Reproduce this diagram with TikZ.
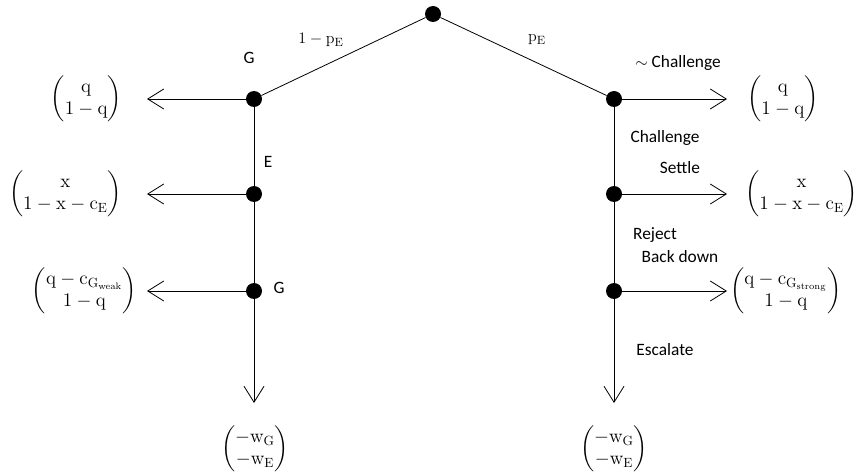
\documentclass[tikz,border=0pt]{standalone}
\usepackage{amsmath}
\usepackage[no-math]{fontspec}
\setmainfont{Carlito}
\usetikzlibrary{arrows.meta}
\tikzstyle{decision}=[circle,fill=black,minimum size=12pt,inner sep=0pt]
\tikzstyle{branch} = [draw, line width=0.6pt, -]
\tikzstyle{move} = [draw, line width=0.6pt, -{Straight Barb[length=12pt,width=15pt,line width=0.6pt]}]
\tikzstyle{talk} = [dashed, dash pattern=on 7pt off 5pt, line width=0.6pt]
\tikzstyle{payoff} = [inner sep=0pt, font=\fontsize{14}{17}\selectfont]
\tikzstyle{act} = [inner sep=0pt, font=\fontsize{13}{15}\selectfont]
\newcommand{\payvec}[2]{$\begin{pmatrix}#1\\#2\end{pmatrix}$}
\def\decisions{{(433,14)/root}, {(254,99)/gl}, {(614,99)/gr}, {(254,194)/el}, {(614,194)/er}, {(254,291)/wl}, {(614,291)/sr}}
\def\tips{{(147,99)/tl1}, {(147,194)/tl2}, {(147,291)/tl3}, {(727,99)/tr1}, {(727,194)/tr2}, {(727,291)/tr3}, {(254,403)/dl}, {(614,403)/dr}}

\begin{document}
\begin{tikzpicture}[x=0.75pt, y=-0.75pt]

    % Keep the page as large as the picture
    \useasboundingbox (0,0) rectangle (860,474);

    % The decision nodes
    \foreach \pos/\name in \decisions
      \node[decision] (\name) at \pos {};

    % Where the moves end
    \foreach \pos/\name in \tips
      \node[coordinate] (\name) at \pos {};

    % The tree itself
    \foreach \source/\sink in {root/gl, root/gr, gl/el, el/wl, gr/er, er/sr}
      \path[branch] (\source) -- (\sink);
    \path[talk] (el) -- (er);

    % The moves that end the game
    \foreach \source/\sink in {gl/tl1, el/tl2, wl/tl3, gr/tr1, er/tr2, sr/tr3, wl/dl, sr/dr}
      \path[move] (\source) -- (\sink);

    % The payoffs
    \node[payoff, anchor=east] (pl1) at (122,99) {\payvec{\mathrm{q}}{1-\mathrm{q}}};
    \node[payoff, anchor=east] (pl2) at (122,194) {\payvec{\mathrm{x}}{1-\mathrm{x}-\mathrm{c}_{\mathrm{E}}}};
    \node[payoff, anchor=east] (pl3) at (137,291) {\payvec{\mathrm{q}-\mathrm{c}_{\mathrm{G}_{\mathrm{weak}}}}{1-\mathrm{q}}};
    \node[payoff, anchor=west] (pr1) at (747,99) {\payvec{\mathrm{q}}{1-\mathrm{q}}};
    \node[payoff, anchor=west] (pr2) at (745,194) {\payvec{\mathrm{x}}{1-\mathrm{x}-\mathrm{c}_{\mathrm{E}}}};
    \node[payoff, anchor=west] (pr3) at (730,291) {\payvec{\mathrm{q}-\mathrm{c}_{\mathrm{G}_{\mathrm{strong}}}}{1-\mathrm{q}}};
    \node[payoff] (pd1) at (255,449) {\payvec{-\mathrm{w}_{\mathrm{G}}}{-\mathrm{w}_{\mathrm{E}}}};
    \node[payoff] (pd2) at (614,449) {\payvec{-\mathrm{w}_{\mathrm{G}}}{-\mathrm{w}_{\mathrm{E}}}};

    % Chance and the players' moves
    \node[act] (chance-l) at (321,40) {$1-\mathrm{p}_{\mathrm{E}}$};
    \node[act] (chance-r) at (537,40) {$\mathrm{p}_{\mathrm{E}}$};
    \node[act] (gov) at (249,58) {G};
    \node[act] (ent) at (268,162) {E};
    \node[act] (gov2) at (279,288) {G};
    \node[act] (nochal) at (678,63) {$\sim$\ Challenge};
    \node[act] (chal) at (665,138) {Challenge};
    \node[act] (settle) at (680,168) {Settle};
    \node[act] (reject) at (655,235) {Reject};
    \node[act] (back) at (680,257) {Back down};
    \node[act] (esc) at (665,350) {Escalate};
\end{tikzpicture}
\end{document}
